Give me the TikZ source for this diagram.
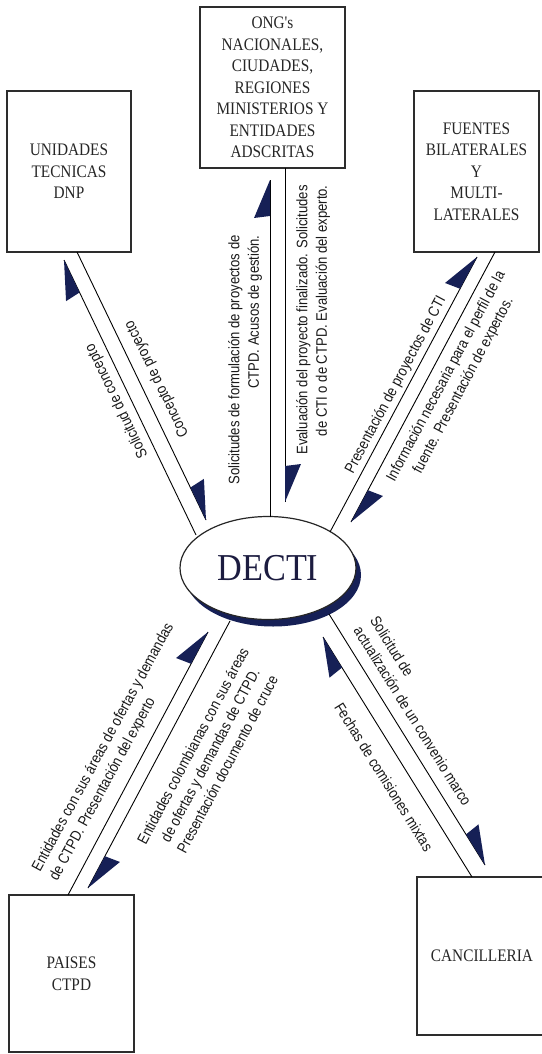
\documentclass[tikz,border=0pt]{standalone}
\usepackage{fontspec}
\setmainfont{Liberation Serif}
\setsansfont{Liberation Sans}
\newfontfamily\boxfont[FakeStretch=0.87]{Liberation Serif}
\newfontfamily\lblfont[FakeStretch=0.86]{Liberation Sans}
\newfontfamily\bigfont[FakeStretch=0.9]{Liberation Serif}
\usetikzlibrary{calc,shapes.geometric}
\definecolor{navy}{RGB}{22,32,86}
\definecolor{navytext}{RGB}{28,28,64}
\definecolor{boxline}{RGB}{45,45,45}
\newcommand{\halfhead}[2]{\fill[navy] (#2) -- ($(#2)!36pt!(#1)$) -- ($(#2)!41.2pt!{-22.8}:(#1)$) -- cycle;}
\begin{document}
\begin{tikzpicture}[x=1pt,y=-1pt,
  box/.style={draw=boxline, line width=1.1pt, fill=white, align=center, inner sep=0pt,
    font=\boxfont\fontsize{17.6}{21.5}\selectfont, text=black!85},
  conn/.style={line width=0.9pt, draw=black},
  lbl/.style={font=\lblfont\fontsize{15.2}{19.5}\selectfont, inner sep=0pt, text=black!90}]
\useasboundingbox (0,0) rectangle (541,1054);
\fill[white] (0,0) rectangle (541,1054);

% boxes
\node[box, minimum width=124pt, minimum height=161pt] (unid) at (69,171.5) {UNIDADES\\TECNICAS\\DNP};
\node[box, minimum width=145pt, minimum height=161pt] (ong) at (272.5,87.5) {ONG's\\NACIONALES,\\CIUDADES,\\REGIONES\\MINISTERIOS Y\\ENTIDADES\\ADSCRITAS};
\node[box, minimum width=125pt, minimum height=161pt] (fue) at (476.5,171.5) {FUENTES\\BILATERALES\\Y\\MULTI-\\LATERALES};
\node[box, minimum width=125pt, minimum height=157pt] (pai) at (71.5,973.5) {PAISES\\CTPD};
\node[box, minimum width=130pt, minimum height=158pt] (can) at (482,956) {CANCILLERIA};

% central ellipse with shadow
\fill[navy] (273,575) ellipse [x radius=88pt, y radius=51.5pt];
\node[ellipse, draw=black!85, line width=1.2pt, fill=white, minimum width=176pt, minimum height=103pt,
  font=\bigfont\fontsize{38}{38}\selectfont, text=navytext] (decti) at (268,568) {DECTI};

% connector end points
\coordinate (uLs) at (196,535); \coordinate (uLt) at (64,260);
\coordinate (uRs) at (77,252);  \coordinate (uRt) at (206,520);
\coordinate (oLs) at (270,517); \coordinate (oLt) at (270,180);
\coordinate (oRs) at (285,168); \coordinate (oRt) at (285,502);
\coordinate (fLs) at (330,532); \coordinate (fLt) at (477,257);
\coordinate (fRs) at (495,252); \coordinate (fRt) at (351,522);
\coordinate (pLs) at (68,895);  \coordinate (pLt) at (208,632);
\coordinate (pRs) at (230,621); \coordinate (pRt) at (88,888);
\coordinate (cRs) at (329,614); \coordinate (cRt) at (485,865);
\coordinate (cLs) at (472,877); \coordinate (cLt) at (323,637);

% connectors
\foreach \a in {uL,uR,oL,oR,fL,fR,pL,pR,cR,cL}{
  \draw[conn] (\a s) -- (\a t);
  \halfhead{\a s}{\a t}
}

% labels
\node[lbl, rotate=116] (l1) at (117,401) {Solicitud de concepto};
\node[lbl, rotate=116] (l2) at (157,379) {Concepto de proyecto};
\node[lbl, rotate=90, align=right] (l3) at (245,360) {Solicitudes de formulación de proyectos de\\CTPD. Acusos de gestión.};
\node[lbl, rotate=90, align=right] (l4) at (313,320) {Evaluación del proyecto finalizado. Solicitudes\\de CTI o de CTPD. Evaluación del experto.};
\node[lbl, rotate=62] (l5) at (396,385) {Presentación de proyectos de CTI};
\node[lbl, rotate=62, align=center] (l6) at (455,381) {Información necesaria para el perfil de la\\fuente. Presentación de expertos.};
\node[lbl, rotate=61.5, align=left] (l7) at (112,752) {Entidades con sus áreas de ofertas y demandas\\de CTPD. Presentación del experto};
\node[lbl, rotate=62, align=center] (l8) at (210,755) {Entidades colombianas con sus áreas\\de ofertas y demandas de CTPD.\\Presentación documento de cruce};
\node[lbl, rotate=-58, align=left] (l9) at (421,711) {Solicitud de\\actualización de un convenio marco};
\node[lbl, rotate=-58] (l10) at (384,777) {Fechas de comisiones mixtas};
\end{tikzpicture}
\end{document}
